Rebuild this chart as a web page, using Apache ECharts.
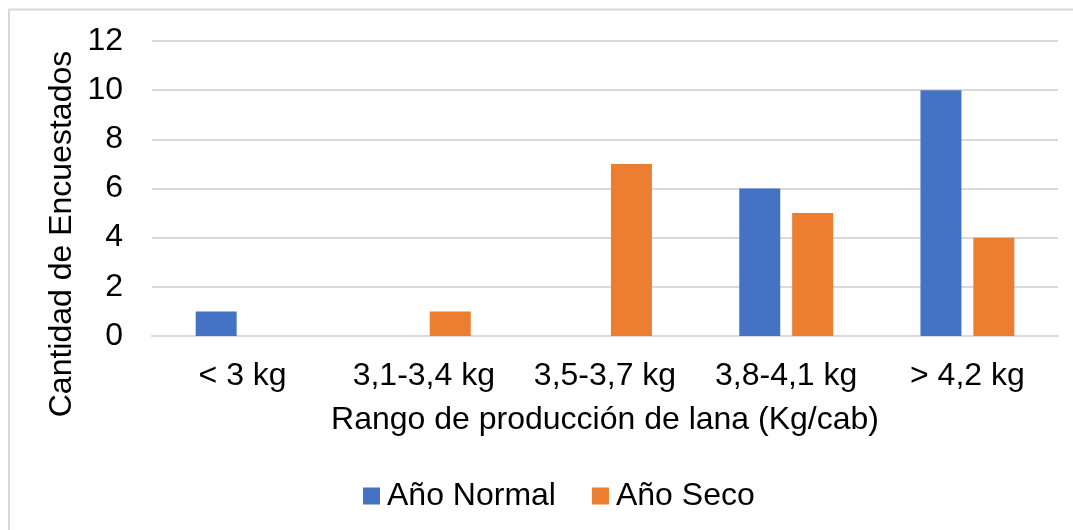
<!DOCTYPE html>
<html><head><meta charset="utf-8">
<script src="https://cdn.jsdelivr.net/npm/echarts@6/dist/echarts.min.js"></script>
<style>html,body{margin:0;padding:0;background:#fff}#c{width:1073px;height:530px}</style>
</head><body><div id="c"></div>
<script>
const categories = ['< 3 kg', '3,1-3,4 kg', '3,5-3,7 kg', '3,8-4,1 kg', '> 4,2 kg'];
const normalValues = [1, 0, 0, 6, 10];
const secoValues = [0, 1, 7, 5, 4];
const seriesNames = ['Año Normal', 'Año Seco'];
const yTicks = [0, 2, 4, 6, 8, 10, 12];

const font = 'Liberation Sans, Arial, sans-serif';
const fs = 32;
const chart = echarts.init(document.getElementById('c'));
chart.setOption({
  animation: false,
  color: ['#4472C4', '#ED7D31'],
  grid: {left: 152, right: 15, top: 41, bottom: 194, containLabel: false},
  legend: {
    bottom: 13, left: 358, itemWidth: 17, itemHeight: 17, itemGap: 36,
    icon: 'rect',
    textStyle: {fontFamily: font, fontSize: fs, color: '#000', padding: [0, 0, 0, 2]},
    data: seriesNames
  },
  graphic: [
    {type: 'rect', shape: {x: 9, y: 9.5, width: 1100, height: 600}, style: {fill: null, stroke: '#d9d9d9', lineWidth: 2}, silent: true},
    {type: 'text', x: 62, y: 234, rotation: Math.PI / 2,
     style: {text: 'Cantidad de Encuestados', fontFamily: font, fontSize: fs, fill: '#000', align: 'center', verticalAlign: 'middle'}}
  ],
  xAxis: {
    type: 'category', data: categories,
    name: 'Rango de producción de lana (Kg/cab)', nameLocation: 'middle', nameGap: 68,
    nameTextStyle: {fontFamily: font, fontSize: fs, color: '#000'},
    axisLine: {show: true, lineStyle: {color: '#d9d9d9', width: 2}},
    axisTick: {show: false},
    axisLabel: {fontFamily: font, fontSize: fs, color: '#000', margin: 24, interval: 0}
  },
  yAxis: {
    type: 'value', min: yTicks[0], max: yTicks[yTicks.length - 1], interval: 2,
    axisLine: {show: false}, axisTick: {show: false},
    axisLabel: {fontFamily: font, fontSize: fs, color: '#000', margin: 29},
    splitLine: {lineStyle: {color: '#d9d9d9', width: 2}}
  },
  series: [
    {name: seriesNames[0], type: 'bar', data: normalValues, barWidth: 41, barGap: '29%'},
    {name: seriesNames[1], type: 'bar', data: secoValues, barWidth: 41, barGap: '29%'}
  ]
});
</script></body></html>
